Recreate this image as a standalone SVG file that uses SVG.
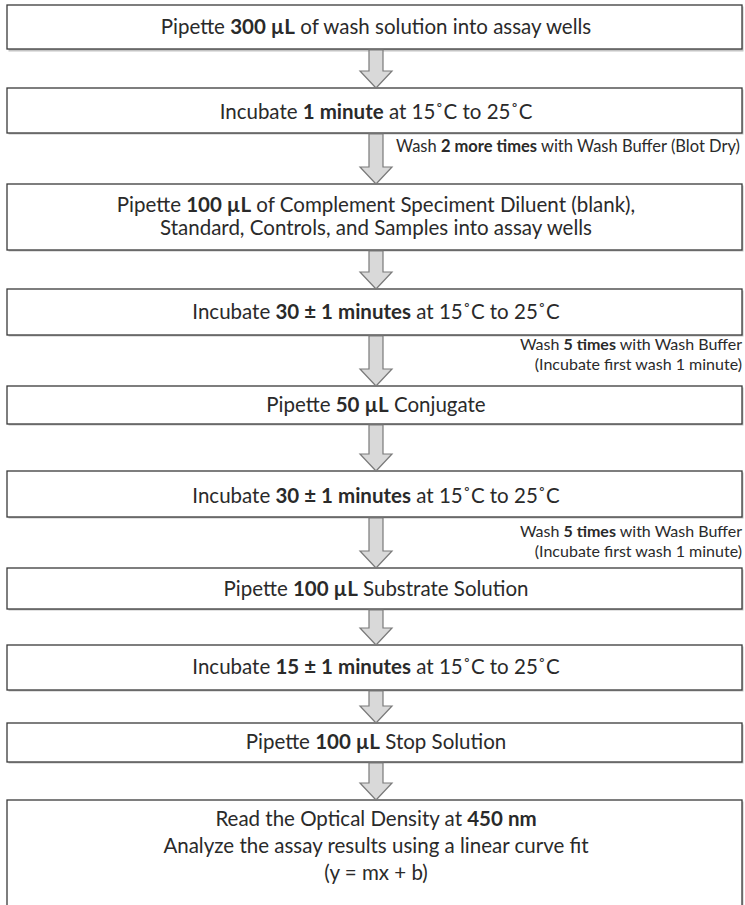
<svg xmlns="http://www.w3.org/2000/svg" width="745" height="905" viewBox="0 0 745 905">
<style>
.box{fill:#fff;stroke:#3a3a3a;stroke-width:1.3}
.sh{fill:#c4c4c4}
.t{font-family:Lato,"Open Sans",sans-serif;font-size:20.5px;fill:#2a2a2a;text-anchor:middle}
.s{font-family:Lato,"Open Sans",sans-serif;font-size:16px;fill:#2a2a2a}
.s2{font-size:16.5px}
.b{font-weight:bold}
.arr{fill:#d9d9d9;stroke:#7a7a7a;stroke-width:1.2}
</style>
<rect width="745" height="905" fill="#fff"/>
<g id="n1"><rect class="sh" x="8.5" y="6.5" width="735" height="45"/><rect class="box" x="7" y="5" width="735" height="44"/><text class="t" x="376" y="34">Pipette <tspan class="b">300 µL</tspan> of wash solution into assay wells</text></g>
<g id="n2"><rect class="sh" x="8.5" y="89.5" width="735" height="45"/><rect class="box" x="7" y="88" width="735" height="45"/><text class="t" x="376" y="119">Incubate <tspan class="b">1 minute</tspan> at 15˚C to 25˚C</text></g>
<g id="n3"><rect class="sh" x="8.5" y="185.5" width="735" height="66"/><rect class="box" x="7" y="184" width="735" height="66"/><text class="t" x="376" y="212">Pipette <tspan class="b">100 µL</tspan> of Complement Speciment Diluent (blank),</text><text class="t" x="376" y="235">Standard, Controls, and Samples into assay wells</text></g>
<g id="n4"><rect class="sh" x="8.5" y="290.5" width="735" height="46"/><rect class="box" x="7" y="289" width="735" height="46"/><text class="t" x="376" y="319">Incubate <tspan class="b">30 ± 1 minutes</tspan> at 15˚C to 25˚C</text></g>
<g id="n5"><rect class="sh" x="8.5" y="387.5" width="735" height="38"/><rect class="box" x="7" y="386" width="735" height="38"/><text class="t" x="376" y="412">Pipette <tspan class="b">50 µL</tspan> Conjugate</text></g>
<g id="n6"><rect class="sh" x="8.5" y="472.5" width="735" height="46"/><rect class="box" x="7" y="471" width="735" height="46"/><text class="t" x="376" y="503">Incubate <tspan class="b">30 ± 1 minutes</tspan> at 15˚C to 25˚C</text></g>
<g id="n7"><rect class="sh" x="8.5" y="569.5" width="735" height="41"/><rect class="box" x="7" y="568" width="735" height="41"/><text class="t" x="376" y="596">Pipette <tspan class="b">100 µL</tspan> Substrate Solution</text></g>
<g id="n8"><rect class="sh" x="8.5" y="646.5" width="735" height="45"/><rect class="box" x="7" y="645" width="735" height="45"/><text class="t" x="376" y="674">Incubate <tspan class="b">15 ± 1 minutes</tspan> at 15˚C to 25˚C</text></g>
<g id="n9"><rect class="sh" x="8.5" y="724.5" width="735" height="39"/><rect class="box" x="7" y="723" width="735" height="39"/><text class="t" x="376" y="749">Pipette <tspan class="b">100 µL</tspan> Stop Solution</text></g>
<g id="n10"><rect class="sh" x="8.5" y="801.5" width="735" height="110"/><rect class="box" x="7" y="800" width="735" height="110"/><text class="t" x="376" y="826">Read the Optical Density at <tspan class="b">450 nm</tspan></text><text class="t" x="376" y="853">Analyze the assay results using a linear curve fit</text><text class="t" x="376" y="880">(y = mx + b)</text></g>
<g id="connectors">
<path class="arr" d="M369,50 H383 V71 H392 L376,88 L360,71 H369 Z"/>
<path class="arr" d="M369,134 H383 V167 H392 L376,184 L360,167 H369 Z"/>
<path class="arr" d="M369,251 H383 V272 H392 L376,289 L360,272 H369 Z"/>
<path class="arr" d="M369,336 H383 V369 H392 L376,386 L360,369 H369 Z"/>
<path class="arr" d="M369,425 H383 V454 H392 L376,471 L360,454 H369 Z"/>
<path class="arr" d="M369,518 H383 V551 H392 L376,568 L360,551 H369 Z"/>
<path class="arr" d="M369,610 H383 V628 H392 L376,645 L360,628 H369 Z"/>
<path class="arr" d="M369,691 H383 V706 H392 L376,723 L360,706 H369 Z"/>
<path class="arr" d="M369,763 H383 V783 H392 L376,800 L360,783 H369 Z"/>
<text class="s s2" x="396" y="152">Wash <tspan class="b">2 more times</tspan> with Wash Buffer (Blot Dry)</text>
<text class="s" x="742" y="350" text-anchor="end">Wash <tspan class="b">5 times</tspan> with Wash Buffer</text>
<text class="s" x="742" y="370" text-anchor="end">(Incubate first wash 1 minute)</text>
<text class="s" x="742" y="537" text-anchor="end">Wash <tspan class="b">5 times</tspan> with Wash Buffer</text>
<text class="s" x="742" y="557" text-anchor="end">(Incubate first wash 1 minute)</text>
</g>
</svg>
